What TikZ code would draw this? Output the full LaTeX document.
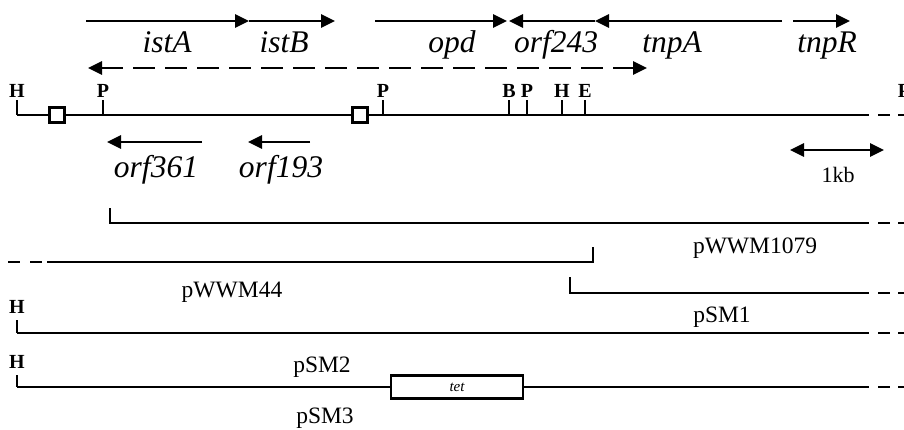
\documentclass[tikz,border=0pt]{standalone}
\usepackage{fontspec}
\setmainfont{Liberation Serif}
\usetikzlibrary{arrows.meta}
\newcommand\genefnt{\fontsize{31.5}{36}\selectfont\itshape}
\newcommand\sitefnt{\fontsize{20}{24}\selectfont\bfseries}
\newcommand\plasfnt{\fontsize{23.5}{28}\selectfont}
\tikzset{
  geneline/.style={line width=2.9pt,-{Triangle[length=14pt,width=13pt]}},
  dnaline/.style={line width=2.9pt},
  tailline/.style={line width=2.9pt,dash pattern=on 12pt off 8pt},
  tickline/.style={line width=1.4pt},
  genelabel/.style={font=\genefnt,anchor=base,inner sep=0pt},
  sitelabel/.style={font=\sitefnt,anchor=base,inner sep=0pt},
  plaslabel/.style={font=\plasfnt,anchor=base,inner sep=0pt},
  ISbox/.style={draw,line width=2.4pt,fill=white,minimum size=15pt,inner sep=0pt},
}
\begin{document}
\begin{tikzpicture}[x=1pt,y=-1pt]
\useasboundingbox (0,0) rectangle (904,429);
% ---- top gene arrows
\coordinate (istAs) at (86,21);
\coordinate (istAe) at (249,21);
\coordinate (istBe) at (335,21);
\coordinate (opds) at (375,21);
\coordinate (opde) at (507,21);
\coordinate (orfAe) at (509,21);
\coordinate (orfAs) at (595,21);
\coordinate (tnpAs) at (782,21);
\coordinate (tnpRs) at (793,21);
\coordinate (tnpRe) at (850,21);
\draw[geneline] (istAs) -- (istAe);
\draw[geneline] (istAe) -- (istBe);
\draw[geneline] (opds) -- (opde);
\draw[geneline] (orfAs) -- (orfAe);
\draw[geneline] (tnpAs) -- (orfAs);
\draw[geneline] (tnpRs) -- (tnpRe);
\node[genelabel] (listA) at (167,52) {istA};
\node[genelabel] (listB) at (284,52) {istB};
\node[genelabel] (lopd) at (452,52) {opd};
\node[genelabel] (lorf243) at (556,52) {orf243};
\node[genelabel] (ltnpA) at (672,52) {tnpA};
\node[genelabel] (ltnpR) at (827,52) {tnpR};
% ---- dashed transcript
\coordinate (dL) at (88,68);
\coordinate (dR) at (647,68);
\draw[line width=2.9pt,dash pattern=on 22pt off 10pt,{Triangle[length=14pt,width=13pt]}-{Triangle[length=14pt,width=13pt]}] (dL) -- (dR);
% ---- main map
\coordinate (m0) at (17,115);
\coordinate (m1) at (869,115);
\coordinate (m2) at (878,115);
\coordinate (m3) at (904,115);
\draw[dnaline] (m0) -- (m1);
\draw[tailline] (m2) -- (m3);
\draw[tickline] (17,100) -- (m0);
\node[sitelabel] (sH0) at (17,97) {H};
\foreach \x/\l/\n in {103/P/a,383/P/b,509/B/c,527/P/d,562/H/e,585/E/f}{
  \draw[tickline] (\x,100) -- (\x,115);
  \node[sitelabel] (s\n) at (\x,97) {\l};
}
\node[sitelabel] (sg) at (904,97) {P};
\node[ISbox] (box1) at (57,115) {};
\node[ISbox] (box2) at (360,115) {};
% ---- lower gene arrows
\coordinate (o361s) at (202,142);
\coordinate (o361e) at (107,142);
\coordinate (o193s) at (310,142);
\coordinate (o193e) at (248,142);
\draw[geneline] (o361s) -- (o361e);
\draw[geneline] (o193s) -- (o193e);
\node[genelabel] (lo361) at (156,177) {orf361};
\node[genelabel] (lo193) at (281,177) {orf193};
% ---- scale bar
\coordinate (kbL) at (790,150);
\coordinate (kbR) at (884,150);
\draw[line width=2.9pt,{Triangle[length=14pt,width=13pt]}-{Triangle[length=14pt,width=13pt]}] (kbL) -- (kbR);
\node[plaslabel,font=\fontsize{22}{26}\selectfont] (kb) at (838,182) {1kb};
% ---- pWWM1079
\coordinate (r1a) at (110,223);
\coordinate (r1b) at (869,223);
\draw[dnaline] (110,208) -- (r1a) -- (r1b);
\draw[tailline] (878,223) -- (904,223);
\node[plaslabel] (lp1) at (755,253) {pWWM1079};
% ---- pWWM44
\coordinate (r2a) at (47,262);
\coordinate (r2b) at (593,262);
\draw[line width=2.9pt,dash pattern=on 12pt off 10pt] (8,262) -- (r2a);
\draw[dnaline] (r2a) -- (r2b) -- (593,247);
\node[plaslabel] (lp2) at (232,297) {pWWM44};
% ---- pSM1
\coordinate (r3a) at (570,293);
\coordinate (r3b) at (869,293);
\draw[dnaline] (570,277) -- (r3a) -- (r3b);
\draw[tailline] (878,293) -- (904,293);
\node[plaslabel] (lp3) at (722,322) {pSM1};
% ---- row 4
\coordinate (r4a) at (17,333);
\coordinate (r4b) at (869,333);
\draw[tickline] (17,320) -- (r4a);
\draw[dnaline] (r4a) -- (r4b);
\draw[tailline] (878,333) -- (904,333);
\node[sitelabel] (sH4) at (17,313) {H};
\node[plaslabel] (lp4) at (322,372) {pSM2};
% ---- row 5
\coordinate (r5a) at (17,387);
\coordinate (r5b) at (869,387);
\node[draw,line width=2.4pt,fill=white,minimum width=132pt,minimum height=23pt,inner sep=0pt,font=\fontsize{15}{18}\selectfont\itshape] (tet) at (457,387) {tet};
\draw[tickline] (17,375) -- (r5a);
\draw[dnaline] (r5a) -- (tet.west);
\draw[dnaline] (tet.east) -- (r5b);
\draw[tailline] (878,387) -- (904,387);
\node[sitelabel] (sH5) at (17,368) {H};
\node[plaslabel] (lp5) at (325,423) {pSM3};
\end{tikzpicture}
\end{document}
